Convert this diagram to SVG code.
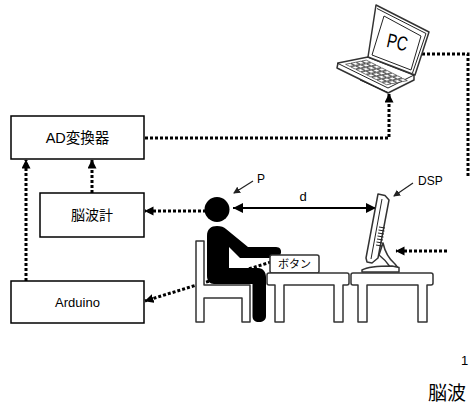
<svg xmlns="http://www.w3.org/2000/svg" width="471" height="407" viewBox="0 0 471 407">
  <style>
    .box { fill: #fff; stroke: #000; stroke-width: 1.5; }
    .dot { fill: none; stroke: #000; stroke-width: 3; stroke-dasharray: 3 2; }
    .lbl { font-family: "Liberation Sans", "Noto Sans CJK JP", sans-serif; fill: #000; }
    .furn { fill: #fff; stroke: #333; stroke-width: 1.5; stroke-linejoin: round; }
    .thin { fill: none; stroke: #222; stroke-width: 1; stroke-linejoin: round; }
    .key { fill: #fff; stroke: #333; stroke-width: 0.7; }
  </style>
  <defs>
    <marker id="head" markerUnits="userSpaceOnUse" markerWidth="10" markerHeight="10" refX="8.5" refY="4.5" orient="auto">
      <path d="M0,0 L9,4.5 L0,9 Z" fill="#000"/>
    </marker>
    <marker id="solid" markerUnits="userSpaceOnUse" markerWidth="12" markerHeight="12" refX="10" refY="5" orient="auto-start-reverse">
      <path d="M0,0 L10,5 L0,10 Z" fill="#000"/>
    </marker>
    <marker id="small" markerUnits="userSpaceOnUse" markerWidth="8" markerHeight="8" refX="6" refY="3.5" orient="auto">
      <path d="M0,0 L7,3.5 L0,7 Z" fill="#222"/>
    </marker>
    <g id="keyrow">
      <rect class="key" x="0.08" y="0" width="0.085" height="0.15" vector-effect="non-scaling-stroke"/>
      <rect class="key" x="0.185" y="0" width="0.085" height="0.15" vector-effect="non-scaling-stroke"/>
      <rect class="key" x="0.29" y="0" width="0.085" height="0.15" vector-effect="non-scaling-stroke"/>
      <rect class="key" x="0.395" y="0" width="0.085" height="0.15" vector-effect="non-scaling-stroke"/>
      <rect class="key" x="0.5" y="0" width="0.085" height="0.15" vector-effect="non-scaling-stroke"/>
      <rect class="key" x="0.605" y="0" width="0.085" height="0.15" vector-effect="non-scaling-stroke"/>
      <rect class="key" x="0.71" y="0" width="0.085" height="0.15" vector-effect="non-scaling-stroke"/>
      <rect class="key" x="0.815" y="0" width="0.085" height="0.15" vector-effect="non-scaling-stroke"/>
    </g>
  </defs>

  <rect width="471" height="407" fill="#fff"/>

  <!-- connectors (drawn first so furniture and figure sit on top) -->
  <g id="connectors">
    <!-- AD converter to PC -->
    <polyline class="dot" points="145,138 389,138 389,94" marker-end="url(#head)"/>
    <!-- PC out to the right edge -->
    <polyline class="dot" points="422,54 468,54 468,178"/>
    <!-- EEG to AD converter -->
    <line class="dot" x1="92" y1="193" x2="92" y2="160" marker-end="url(#head)"/>
    <!-- Arduino to AD converter -->
    <line class="dot" x1="26" y1="281" x2="26" y2="160" marker-end="url(#head)"/>
    <!-- head to EEG -->
    <line class="dot" x1="206" y1="211" x2="145" y2="211" marker-end="url(#head)"/>
    <!-- button to Arduino -->
    <line class="dot" x1="271" y1="262" x2="145" y2="301" marker-end="url(#head)"/>
    <!-- signal into display -->
    <line class="dot" x1="447" y1="251" x2="396" y2="251" marker-end="url(#head)"/>
    <!-- viewing distance d -->
    <line x1="233" y1="208" x2="376" y2="208" stroke="#000" stroke-width="2" marker-start="url(#solid)" marker-end="url(#solid)"/>
    <!-- pointer lines for labels -->
    <line x1="253" y1="181" x2="234" y2="193" stroke="#222" stroke-width="1.2" marker-end="url(#small)"/>
    <line x1="413" y1="183" x2="394" y2="196" stroke="#222" stroke-width="1.2" marker-end="url(#small)"/>
  </g>

  <g id="ad-converter">
    <rect class="box" x="11" y="116" width="133" height="43"/>
    <text class="lbl" x="77.5" y="143" font-size="14.5" text-anchor="middle">AD変換器</text>
  </g>

  <g id="eeg">
    <rect class="box" x="40" y="193" width="104" height="44"/>
    <text class="lbl" x="92" y="220" font-size="14" text-anchor="middle">脳波計</text>
  </g>

  <g id="arduino">
    <rect class="box" x="11" y="281" width="133" height="42"/>
    <text class="lbl" x="77.5" y="306.5" font-size="13" text-anchor="middle">Arduino</text>
  </g>

  <g id="pc">
    <!-- base -->
    <path class="furn" d="M338,63 L368,57 L414,75 L414,80 L388,93 L337,68 Z" stroke-width="1.2"/>
    <path class="thin" d="M337,63 L388,88 L414,75"/>
    <path class="thin" d="M360,80 L388,92.5"/>
    <!-- keyboard -->
    <g transform="matrix(50,25,30,-6,338,63)">
      <use href="#keyrow" transform="translate(0,0.12)"/>
      <use href="#keyrow" transform="translate(0,0.3)"/>
      <use href="#keyrow" transform="translate(0,0.48)"/>
      <use href="#keyrow" transform="translate(0,0.66)"/>
    </g>
    <!-- lid -->
    <path class="furn" d="M376,5 L429,32 L415,75 L368,57 Z" stroke-width="1.2"/>
    <path class="thin" d="M377,8.5 L426,33.5 L412.5,73"/>
    <path class="thin" d="M384,16 L421,36 L411,70 L372,55 Z"/>
    <text class="lbl" x="0" y="0" font-size="20" text-anchor="middle" transform="translate(396,49) rotate(12) scale(0.75,1)">PC</text>
  </g>

  <g id="chair">
    <path class="furn" d="M196,241 L204,241 L204,285 L250,285 L250,322 L242,322 L242,298 L204,298 L204,322 L196,322 Z"/>
  </g>

  <g id="person">
    <circle cx="217" cy="209.5" r="12.5" fill="#000"/>
    <path fill="#000" d="M207,236 C207,229 211,226 217,226 C221,226 224,227 226,229 L248,247 L276,247 C280,247 281.5,250 281,252.5 C280.5,256 278,258 275,258 L240,258 L229,247 L229,268 L258,268 C263,268 266,272 266,277 L266,316 C266,320 263,322 259,322 C255,322 252.5,320 252.5,316 L252.5,284 L214,284 C210,284 207,281 207,276 Z"/>
  </g>

  <g id="button">
    <rect class="furn" x="270" y="255" width="49" height="18" rx="2" stroke="#222"/>
    <text class="lbl" x="294.5" y="268" font-size="11" text-anchor="middle">ボタン</text>
  </g>

  <g id="table-1">
    <path class="furn" d="M269,273 L347,273 Q349,273 349,275 L349,283 Q349,285 347,285 L343,285 L343,322 L334,322 L334,285 L284,285 L284,322 L275,322 L275,285 L269,285 Q267,285 267,283 L267,275 Q267,273 269,273 Z"/>
  </g>

  <g id="table-2">
    <path class="furn" d="M353,273 L431,273 Q433,273 433,275 L433,283 Q433,285 431,285 L427,285 L427,322 L418,322 L418,285 L367,285 L367,322 L358,322 L358,285 L353,285 Q351,285 351,283 L351,275 Q351,273 353,273 Z"/>
  </g>

  <g id="display">
    <!-- stand -->
    <path class="furn" d="M383,243 C385,252 389,259 395,264 L398,268 L391,268 C387,262 383,258 379,255 Z" stroke-width="1.2"/>
    <path class="furn" d="M362,270 C368,266.5 385,266 392,266 L399,267.5 L399,272 L362,272 Z" stroke-width="1.2"/>
    <!-- screen -->
    <path class="furn" d="M378,194 L385,195.5 L389,200 L378,258 L372,263 L367,262 L366,258 Z" stroke-width="1.3"/>
    <path class="thin" d="M382,199 L371,259"/>
    <path class="thin" d="M379,227 L385,228 M378.5,230 L384.5,231 M378,233 L384,234 M377.5,236 L383.5,237 M377,239 L383,240 M376.5,242 L382.5,243 M376,245 L382,246"/>
  </g>

  <g id="labels">
    <text class="lbl" x="257" y="183" font-size="12">P</text>
    <text class="lbl" x="303" y="201" font-size="13" text-anchor="middle">d</text>
    <text class="lbl" x="418" y="185" font-size="12">DSP</text>
    <text class="lbl" x="461" y="365" font-size="13">1</text>
    <text class="lbl" x="428" y="400" font-size="19">脳波</text>
  </g>
</svg>
